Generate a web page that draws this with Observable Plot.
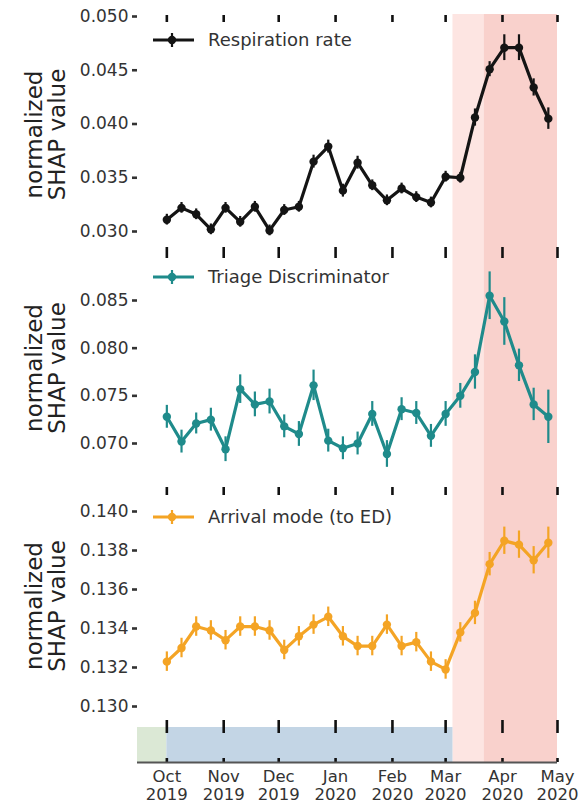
<!DOCTYPE html>
<html><head><meta charset="utf-8">
<script src="https://cdn.jsdelivr.net/npm/d3@7"></script>
<script src="https://cdn.jsdelivr.net/npm/@observablehq/plot@0.6"></script>
<style>
body{margin:0;background:#fff;font-family:"DejaVu Sans",sans-serif;}
#wrap{position:relative;width:580px;}
#wrap svg{display:block;overflow:visible;}
.lg{position:absolute;left:152px;display:flex;align-items:center;font-size:18px;color:#333;line-height:20px;white-space:nowrap;}
.lg svg{display:block;margin-right:12px;}
</style></head><body><div id="wrap"></div>
<script>
// ---------- data ----------
const dates = ["2019-10-01","2019-10-09","2019-10-17","2019-10-25","2019-11-02","2019-11-10","2019-11-18","2019-11-26","2019-12-04","2019-12-12","2019-12-20","2019-12-28","2020-01-05","2020-01-13","2020-01-21","2020-01-29","2020-02-06","2020-02-14","2020-02-22","2020-03-01","2020-03-09","2020-03-17","2020-03-25","2020-04-02","2020-04-10","2020-04-18","2020-04-26"];

const respiration    = [0.0311,0.0322,0.0316,0.0302,0.0322,0.0309,0.0323,0.0301,0.0320,0.0323,0.0365,0.0379,0.0338,0.0364,0.0343,0.0329,0.0340,0.0332,0.0327,0.0351,0.0350,0.0406,0.0451,0.0471,0.0471,0.0434,0.0405];
const respirationErr = [0.0005,0.0005,0.0005,0.0005,0.0005,0.0005,0.0005,0.0005,0.0005,0.0005,0.0006,0.0006,0.0006,0.0006,0.0005,0.0005,0.0005,0.0005,0.0005,0.0005,0.0005,0.0008,0.0007,0.0012,0.0012,0.0008,0.0010];

const triage    = [0.0728,0.0702,0.0721,0.0725,0.0694,0.0757,0.0741,0.0744,0.0718,0.0710,0.0761,0.0703,0.0695,0.0700,0.0731,0.0689,0.0736,0.0732,0.0708,0.0731,0.0750,0.0775,0.0855,0.0828,0.0782,0.0741,0.0728];
const triageErr = [0.0012,0.0012,0.0011,0.0012,0.0013,0.0015,0.0013,0.0013,0.0012,0.0013,0.0016,0.0012,0.0012,0.0012,0.0013,0.0014,0.0012,0.0012,0.0012,0.0013,0.0013,0.0018,0.0025,0.0025,0.0017,0.0017,0.0028];

const arrival    = [0.1323,0.1330,0.1341,0.1339,0.1334,0.1341,0.1341,0.1339,0.1329,0.1336,0.1342,0.1346,0.1336,0.1331,0.1331,0.1342,0.1331,0.1333,0.1323,0.1319,0.1338,0.1348,0.1373,0.1385,0.1383,0.1375,0.1384];
const arrivalErr = [0.0005,0.0005,0.0005,0.0005,0.0005,0.0005,0.0005,0.0005,0.0005,0.0005,0.0005,0.0005,0.0005,0.0005,0.0005,0.0005,0.0005,0.0005,0.0005,0.0005,0.0005,0.0006,0.0006,0.0007,0.0007,0.0007,0.0008];

const respirationTicks = [0.030,0.035,0.040,0.045,0.050];
const triageTicks      = [0.070,0.075,0.080,0.085];
const arrivalTicks     = [0.130,0.132,0.134,0.136,0.138,0.140];

const monthTicks  = ["2019-10-01","2019-11-01","2019-12-01","2020-01-01","2020-02-01","2020-03-01","2020-04-01","2020-05-01"];
const monthLabels = ["Oct\n2019","Nov\n2019","Dec\n2019","Jan\n2020","Feb\n2020","Mar\n2020","Apr\n2020","May\n2020"];

const pandemicPeriods = [{start:"2020-03-05", end:"2020-03-22"}, {start:"2020-03-22", end:"2020-05-01"}];
const baselinePeriods = [{start:"2019-09-15", end:"2019-10-01"}, {start:"2019-10-01", end:"2020-03-05"}];
const xExtent = ["2019-09-15","2020-05-01"];

const seriesNames = ["Respiration rate","Triage Discriminator","Arrival mode (to ED)"];

// ---------- drawing ----------
const FONT = "DejaVu Sans";
const W = 580, ML = 137, MR = 23;
const COLORS = ["#141414","#1f8b8b","#f4a425"];
const PINK = ["#fde5e2","#f9d1cc"];
const STRIP = ["#dbe8d5","#c3d5e5"];
const xDomain = xExtent.map(d => new Date(d));
const months = monthTicks.map(d => new Date(d));
const labelOf = new Map(months.map((d,i) => [+d, monthLabels[i]]));
const pp = pandemicPeriods.map(p => ({start:new Date(p.start), end:new Date(p.end)}));
const bp = baselinePeriods.map(p => ({start:new Date(p.start), end:new Date(p.end)}));

function shading() {
  return [
    Plot.rect([pp[0]], {x1:"start", x2:"end", fill:PINK[0]}),
    Plot.rect([pp[1]], {x1:"start", x2:"end", fill:PINK[1]})
  ];
}

function panel(cfg) {
  const data = dates.map((d,i) => ({date:new Date(d), v:cfg.values[i], e:cfg.errs[i]}));
  const tickRows = cfg.tickRows.map(r => Plot.ruleX(months, {stroke:"#111", strokeWidth:2.6, insetTop:r[0], insetBottom:r[1]}));
  return Plot.plot({
    width:W, height:cfg.height, marginLeft:ML, marginRight:MR, marginTop:cfg.marginTop, marginBottom:0,
    style:{fontFamily:FONT, fontSize:"17px", color:"#333", background:"transparent", overflow:"visible"},
    x:{type:"utc", domain:xDomain, axis:null},
    y:{domain:cfg.yDomain, range:cfg.yRange},
    marks:[
      ...shading(),
      ...tickRows,
      Plot.axisY({ticks:cfg.ticks, tickFormat:d3.format(".3f"), tickSize:5, tickPadding:4, strokeWidth:2.6, stroke:"#333", fill:"#333", fontSize:17, label:null}),
      Plot.text(["normalized\nSHAP value"], {frameAnchor:"left", textAnchor:"middle", rotate:-90, dx:-91, dy:cfg.titleDy, fontSize:23, lineHeight:1.0, fill:"#222"}),
      Plot.ruleX(data, {x:"date", y1:d => d.v - d.e, y2:d => d.v + d.e, stroke:cfg.color, strokeWidth:2.2}),
      Plot.line(data, {x:"date", y:"v", stroke:cfg.color, strokeWidth:3.2}),
      Plot.dot(data, {x:"date", y:"v", fill:cfg.color, r:4.2})
    ]
  });
}

const wrap = document.getElementById("wrap");

wrap.appendChild(panel({values:respiration, errs:respirationErr, color:COLORS[0], ticks:respirationTicks,
  height:258, marginTop:14, yDomain:[0.030,0.050], yRange:[231,16], titleDy:-2,
  tickRows:[[1,236],[233,0]]}));
wrap.appendChild(panel({values:triage, errs:triageErr, color:COLORS[1], ticks:triageTicks,
  height:237, marginTop:0, yDomain:[0.070,0.085], yRange:[185,42], titleDy:-9,
  tickRows:[[229,0]]}));
wrap.appendChild(panel({values:arrival, errs:arrivalErr, color:COLORS[2], ticks:arrivalTicks,
  height:225, marginTop:0, yDomain:[0.130,0.140], yRange:[211,16], titleDy:-2,
  tickRows:[]}));

// bottom strip with x axis
wrap.appendChild(Plot.plot({
  width:W, height:87, marginLeft:ML, marginRight:MR, marginTop:0, marginBottom:45,
  style:{fontFamily:FONT, fontSize:"16.5px", color:"#333", background:"transparent", overflow:"visible"},
  x:{type:"utc", domain:xDomain},
  y:{domain:[0,1], axis:null},
  marks:[
    ...shading(),
    Plot.rect([bp[0]], {x1:"start", x2:"end", fill:STRIP[0], insetTop:7}),
    Plot.rect([bp[1]], {x1:"start", x2:"end", fill:STRIP[1], insetTop:7}),
    Plot.ruleX(months, {stroke:"#111", strokeWidth:2.6, insetTop:0, insetBottom:29}),
    Plot.ruleX(months, {stroke:"#111", strokeWidth:2.6, insetTop:38, insetBottom:0}),
    Plot.ruleY([0], {stroke:"#555", strokeWidth:2.2}),
    Plot.axisX({ticks:months, tickFormat:d => labelOf.get(+d), tickSize:0, tickPadding:6, lineHeight:1.12, fontSize:16.5, fill:"#333", label:null})
  ]
}));

// legends (matplotlib-style, inside each panel)
const legendTops = [30, 267, 507];
seriesNames.forEach((name, i) => {
  const div = document.createElement("div");
  div.className = "lg";
  div.style.top = legendTops[i] + "px";
  const c = COLORS[i];
  div.innerHTML = `<svg width="44" height="20"><line x1="1" x2="42" y1="10" y2="10" stroke="${c}" stroke-width="3.2"/><line x1="20" x2="20" y1="3" y2="17" stroke="${c}" stroke-width="2.2"/><circle cx="20" cy="10" r="4.2" fill="${c}"/></svg><span></span>`;
  div.querySelector("span").textContent = name;
  wrap.appendChild(div);
});
</script>
</body></html>
